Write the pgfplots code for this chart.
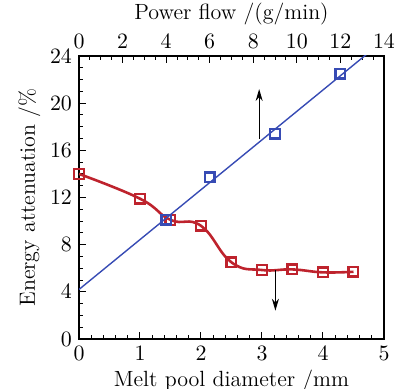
\documentclass[border=0pt]{standalone}
\usepackage{pgfplots}
\pgfplotsset{compat=1.18}
\usetikzlibrary{arrows.meta}
\definecolor{cred}{RGB}{190,35,45}
\definecolor{cblue}{RGB}{55,75,180}
\begin{document}
\begin{tikzpicture}
\pgfplotsset{
  every axis/.append style={
    scale only axis, width=152.5pt, height=141.5pt,
    at={(0,0)}, anchor=south west,
    ymin=0, ymax=24,
    tick align=inside,
    major tick length=3.3pt, minor tick length=1.8pt,
    axis line style={line width=0.7pt},
    every tick/.style={black, line width=0.5pt},
    font=\fontsize{11}{13}\selectfont,
    tick label style={font=\fontsize{11}{13}\selectfont},
    label style={font=\fontsize{11}{13}\selectfont},
  }
}
\begin{axis}[
  xmin=0, xmax=5,
  xtick={0,1,...,5}, minor x tick num=4,
  ytick={0,4,...,24}, minor y tick num=3,
  xtick pos=bottom, ytick pos=left,
  xlabel={Melt pool diameter /mm},
  ylabel={Energy attenuation /\%},
  xlabel style={yshift=2pt},
  ylabel style={yshift=-2pt},
]
\addplot[cred, line width=1.3pt, smooth, tension=0.75,
  mark=square, mark size=2.4pt,
  mark options={fill=white, line width=1.2pt, rounded corners=1pt, solid}]
  coordinates {(0,14) (1,11.9) (1.5,10.1) (2,9.6) (2.5,6.5) (3,5.85) (3.5,5.9) (4,5.65) (4.5,5.7)};
\draw[-{Stealth[length=6pt,width=3.5pt]}, line width=0.6pt] (axis cs:3.22,5.85) -- (axis cs:3.22,2.4);
\end{axis}
\begin{axis}[
  xmin=0, xmax=14,
  axis x line*=top, axis y line=none,
  xtick={0,2,...,14}, minor x tick num=3,
  xlabel={Power flow /(g/min)},
  xlabel style={yshift=-2pt},
]
\addplot[cblue, line width=0.7pt] coordinates {(0,4.2) (14,25.35)};
\addplot[cblue, only marks, mark=square, mark size=2.4pt,
  mark options={fill=white, line width=1.2pt, rounded corners=1pt, solid}]
  coordinates {(4,10.1) (6,13.7) (9,17.4) (12,22.5)};
\draw[-{Stealth[length=6pt,width=3.5pt]}, line width=0.6pt] (axis cs:8.27,17.0) -- (axis cs:8.27,21.2);
\end{axis}
\pgfresetboundingbox
\path[use as bounding box] (-39.5pt,-25pt) rectangle (161.5pt,169.5pt);
\end{tikzpicture}
\end{document}
